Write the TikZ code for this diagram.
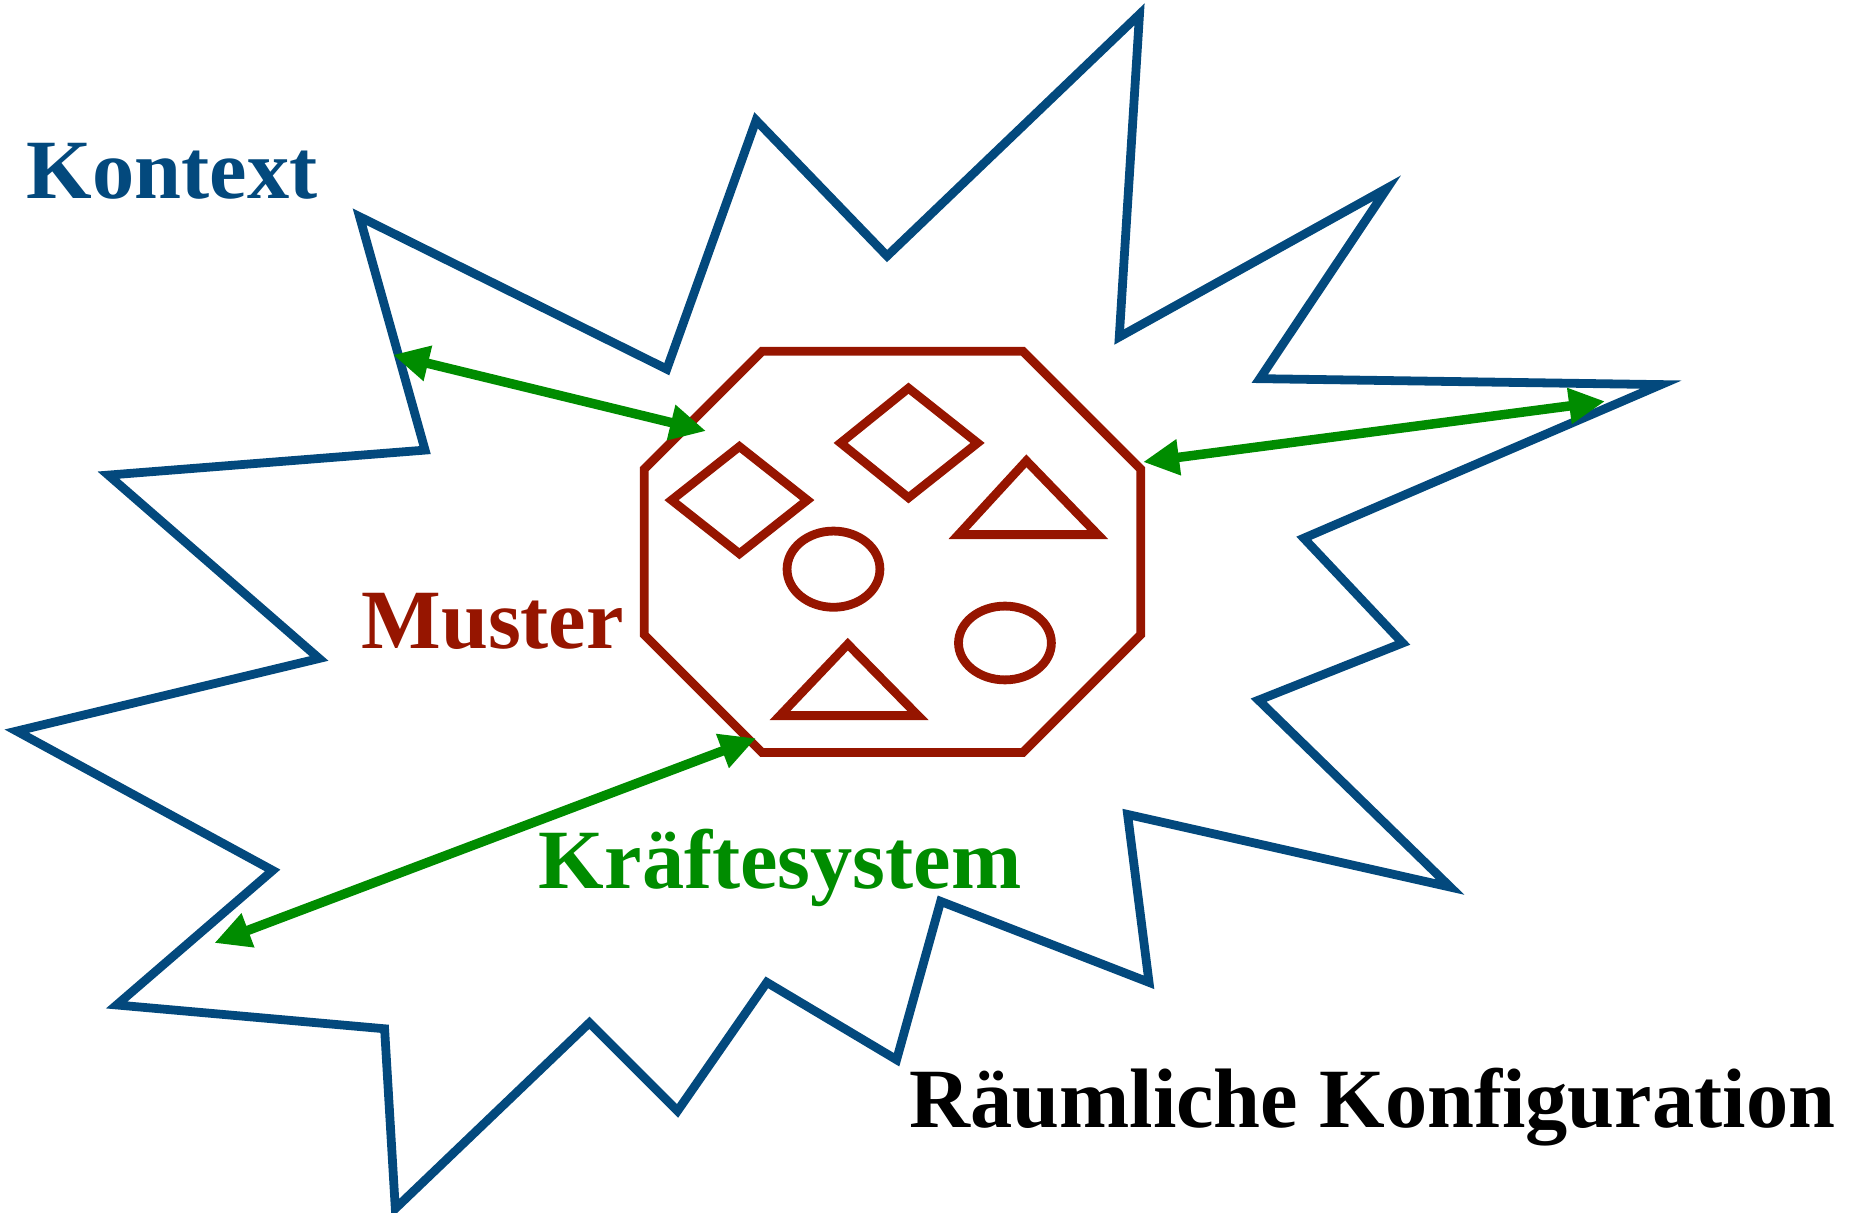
\documentclass[tikz,border=0pt]{standalone}
\usepackage{fontspec}
\setmainfont{Liberation Serif}
\usetikzlibrary{arrows.meta}
\definecolor{kontextblue}{HTML}{03497D}
\definecolor{musterred}{HTML}{961500}
\definecolor{kraftgreen}{HTML}{008C00}
\tikzset{
  titletext/.style={font=\fontsize{24}{28}\selectfont\bfseries,anchor=base west,inner sep=0pt},
  kraft/.style={kraftgreen,line width=2.7pt,{Triangle[length=3.6mm,width=3.4mm]}-{Triangle[length=3.6mm,width=3.4mm]}},
  figur/.style={musterred,line width=2.5pt},
}
\begin{document}
\begin{tikzpicture}[x=0.011907cm,y=-0.011907cm,line join=miter]
\useasboundingbox (0,0) rectangle (1568,1018);
% Kontext
\draw[kontextblue,line width=2.5pt] (302,182) -- (560,310) -- (635,101) -- (745,215) -- (957,12)
  -- (940,283) -- (1165,158) -- (1058,318) -- (1395,323) -- (1095,452) -- (1178,540)
  -- (1057,588) -- (1218,745) -- (947,684) -- (965,825) -- (790,757) -- (753,890)
  -- (644,825) -- (569,933) -- (495,859) -- (332,1015) -- (323,864) -- (98,844)
  -- (229,731) -- (14,614) -- (268,553) -- (91,399) -- (357,378) -- cycle;
% Muster
\draw[figur] (640,295) -- (859,295) -- (958,394) -- (958,533) -- (859,632) -- (640,632)
  -- (541,533) -- (541,394) -- cycle;
\draw[figur] (621,375) -- (678,420) -- (621,465) -- (564,420) -- cycle;
\draw[figur] (763,326) -- (821,372) -- (763,418) -- (706,372) -- cycle;
\draw[figur] (862,387) -- (922,449) -- (805,449) -- cycle;
\draw[figur] (712,541) -- (771,601) -- (655,601) -- cycle;
\draw[figur] (700,478) ellipse [x radius=39,y radius=32];
\draw[figur] (844,540) ellipse [x radius=39,y radius=31];
% Kraefte
\coordinate (kontextA) at (330,298);
\coordinate (musterA) at (593,362);
\coordinate (musterB) at (960,388);
\coordinate (kontextB) at (1348,337);
\coordinate (kontextC) at (180,792);
\coordinate (musterC) at (635,620);
\draw[kraft] (kontextA) -- (musterA);
\draw[kraft] (musterB) -- (kontextB);
\draw[kraft] (kontextC) -- (musterC);
% Beschriftung
\node[titletext,kontextblue] (kontext) at (22,167) {Kontext};
\node[titletext,musterred] (muster) at (303,545) {Muster};
\node[titletext,kraftgreen] (kraefte) at (452,746) {Kräftesystem};
\node[titletext,black] (raum) at (763,947) {Räumliche Konfiguration};
\end{tikzpicture}
\end{document}
